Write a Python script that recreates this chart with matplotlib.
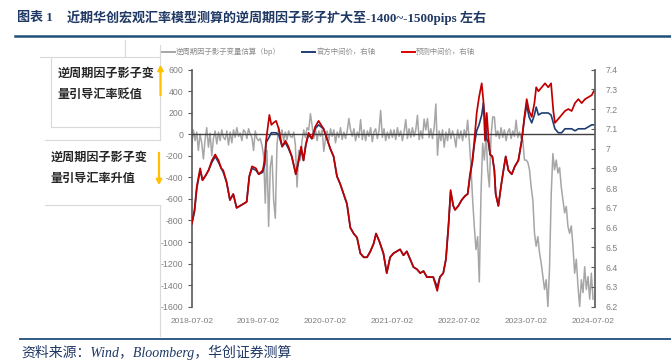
import numpy as np
import pandas as pd
import matplotlib
matplotlib.use('Agg')
import matplotlib.pyplot as plt
from matplotlib.lines import Line2D
from matplotlib.patches import FancyArrowPatch
from matplotlib.ticker import FuncFormatter

plt.rcParams['font.family'] = ['Liberation Sans', 'Noto Sans CJK SC', 'DejaVu Sans']

# 逆周期因子影子变量估算 (bp)，约每 9 天一个点
gray_vals = [
    -100, 40, -60, 20, -150, 0, -80, -230, -50, 60, -120, 10, -200, -40, 30, -90, 20, -60, 40, -30,
    -50, 30, -100, 20, -80, 40, -30, 60, -20, 10, -60, 40, 20, -40, 50, 0, -30, -150, 30, -40,
    -60, -40, -100, -200, -640, -150, -855, -300, -200, -610, -780, -100, 60, -30, 40, -60, 20, -50, 30, -20,
    -30, 20, -100, -490, -150, -240, -60, 40, -30, 60, 40, 190, 80, -40, 50, -60, 30, -20, 40, -160,
    -40, 30, -60, 50, -20, 40, -80, 20, -30, 60, -50, 20, -40, 30, 145, 40, -20, 50, -60, 20,
    -30, 135, -50, 40, -60, 30, -20, 60, -70, 20, 50, -40, 30, 220, -30, 50, -60, 20, -40, 40,
    -30, 40, -50, 60, -20, 30, -60, 20, 135, -40, 50, -30, 60, -20, 40, 175, -50, 30, -40, 140,
    40, 145, -30, 50, -40, 60, 280, -195, 30, -60, 40, -120, 20, -60, 50, -40, 30, -20, -120, 40,
    -40, 30, -60, 40, -30, 130, -60, -300, -610, -855, -1070, -950, -1370, -550, -85, -240, 0, -330, -490, -25,
    160, 160, -20, 30, -40, 60, -30, 40, -60, 20, 50, -40, 30, -20, 130, -30, 20, -40, -55, -240,
    -240, -260, -330, -490, -610, -920, -1040, -950, -1100, -1195, -1320, -1440, -1350, -1600, -1230, -550,
    -180, -330, -240, -360,
    -310, -490, -610, -730, -670, -855, -920, -850, -1040, -1290, -1160, -1410, -1600, -1350, -1470, -1230,
    -1440, -1320, -1530, -1290, -1530,
]

# 官方/预测中间价（右轴），时间为年份小数
fx_years = [
    2018.50, 2018.54, 2018.575, 2018.625, 2018.66, 2018.70, 2018.75, 2018.80, 2018.85, 2018.90,
    2018.94, 2018.97, 2019.02, 2019.07, 2019.12, 2019.17, 2019.22, 2019.27, 2019.32, 2019.36,
    2019.40, 2019.46, 2019.50, 2019.56, 2019.59, 2019.61, 2019.66, 2019.69, 2019.72, 2019.76,
    2019.80, 2019.85, 2019.90, 2019.945, 2019.995, 2020.055, 2020.095, 2020.135, 2020.17, 2020.205,
    2020.245, 2020.295, 2020.345, 2020.395, 2020.47, 2020.52, 2020.57, 2020.62, 2020.67, 2020.72,
    2020.77, 2020.82, 2020.87, 2020.92, 2020.97, 2021.02, 2021.07, 2021.12, 2021.17, 2021.22,
    2021.255, 2021.305, 2021.365, 2021.415, 2021.465, 2021.515, 2021.565, 2021.615, 2021.665, 2021.715,
    2021.765, 2021.815, 2021.865, 2021.915, 2021.965, 2022.015, 2022.11, 2022.17, 2022.21, 2022.26,
    2022.30, 2022.34, 2022.37, 2022.41, 2022.436, 2022.485, 2022.536, 2022.585, 2022.625, 2022.66,
    2022.695, 2022.725, 2022.76, 2022.795, 2022.835, 2022.86, 2022.885, 2022.91, 2022.935, 2022.96,
    2022.994, 2023.024, 2023.044, 2023.084, 2023.124, 2023.16, 2023.194, 2023.234, 2023.284, 2023.33,
    2023.383, 2023.433, 2023.473, 2023.508, 2023.543, 2023.583, 2023.623, 2023.65, 2023.683, 2023.733,
    2023.782, 2023.83, 2023.872, 2023.906, 2023.93, 2023.98, 2024.03, 2024.08, 2024.13, 2024.18,
    2024.23, 2024.28, 2024.33, 2024.38, 2024.43, 2024.48, 2024.51,
]
pred_vals = [
    6.62, 6.69, 6.81, 6.90, 6.84, 6.86, 6.89, 6.94, 6.97, 6.94,
    6.90, 6.89, 6.83, 6.74, 6.77, 6.70, 6.71, 6.72, 6.73, 6.86,
    6.91, 6.90, 6.87, 6.89, 6.94, 7.04, 7.17, 7.12, 7.13, 7.14,
    7.10, 7.01, 7.04, 7.01, 6.96, 6.87, 6.94, 7.01, 6.94, 7.02,
    7.08, 7.05, 7.11, 7.14, 7.10, 7.05, 7.00, 6.96, 6.86, 6.82,
    6.77, 6.72, 6.60, 6.57, 6.55, 6.47, 6.45, 6.45, 6.48, 6.52,
    6.57, 6.53, 6.47, 6.37, 6.45, 6.47, 6.48, 6.49, 6.46, 6.48,
    6.44, 6.40, 6.39, 6.37, 6.38, 6.35, 6.35, 6.28, 6.35, 6.37,
    6.44, 6.62, 6.79, 6.71, 6.69, 6.71, 6.74, 6.76, 6.77, 6.87,
    6.94, 7.04, 7.18, 7.26, 7.33, 7.24, 7.04, 7.18, 7.06, 6.97,
    6.96, 6.89, 6.77, 6.71, 6.81, 6.89, 6.96, 6.89, 6.87, 6.91,
    6.94, 7.04, 7.16, 7.25, 7.19, 7.16, 7.23, 7.31, 7.29, 7.31,
    7.33, 7.31, 7.33, 7.19, 7.13, 7.15, 7.17, 7.19, 7.20, 7.19,
    7.23, 7.25, 7.23, 7.25, 7.26, 7.27, 7.29,
]
official_vals = [
    6.62, 6.68, 6.80, 6.89, 6.84, 6.86, 6.89, 6.93, 6.96, 6.93,
    6.90, 6.88, 6.83, 6.74, 6.77, 6.70, 6.71, 6.72, 6.73, 6.86,
    6.90, 6.89, 6.87, 6.88, 6.92, 7.03, 7.06, 7.08, 7.08, 7.08,
    7.07, 7.01, 7.03, 7.00, 6.96, 6.87, 6.93, 7.00, 6.94, 7.02,
    7.07, 7.05, 7.10, 7.12, 7.10, 7.05, 7.00, 6.96, 6.86, 6.82,
    6.77, 6.72, 6.60, 6.57, 6.55, 6.47, 6.45, 6.45, 6.48, 6.52,
    6.57, 6.53, 6.47, 6.37, 6.45, 6.47, 6.48, 6.49, 6.46, 6.48,
    6.44, 6.40, 6.39, 6.37, 6.38, 6.35, 6.35, 6.30, 6.35, 6.37,
    6.44, 6.62, 6.78, 6.71, 6.69, 6.71, 6.74, 6.76, 6.77, 6.86,
    6.93, 7.02, 7.09, 7.12, 7.17, 7.23, 7.15, 7.05, 7.03, 6.97,
    6.96, 6.89, 6.77, 6.71, 6.81, 6.89, 6.96, 6.89, 6.87, 6.91,
    6.94, 7.04, 7.15, 7.22, 7.16, 7.13, 7.17, 7.21, 7.17, 7.18,
    7.18, 7.18, 7.17, 7.13, 7.10, 7.08, 7.08, 7.10, 7.10, 7.10,
    7.09, 7.10, 7.10, 7.10, 7.11, 7.12, 7.12,
]

tick_labels = ['2018-07-02', '2019-07-02', '2020-07-02', '2021-07-02',
               '2022-07-02', '2023-07-02', '2024-07-02']

gray_dates = pd.date_range('2018-07-02', '2024-07-02', periods=len(gray_vals))
fx_dates = pd.Timestamp('2018-01-01') + pd.to_timedelta((np.array(fx_years) - 2018) * 365.25, unit='D')

W, H = 671, 360
fig = plt.figure(figsize=(W / 100, H / 100), dpi=100)


def px(x):
    return x / W


def py(y):
    return 1 - y / H


navy = '#1F3864'
mixed = ['Liberation Serif', 'Noto Sans CJK SC']

# 标题
fig.text(px(17), py(18), '图表 1', fontsize=9.4, fontweight='bold', color=navy,
         family=mixed, va='center')
fig.text(px(67), py(18), '近期华创宏观汇率模型测算的逆周期因子影子扩大至-1400~-1500pips 左右',
         fontsize=9.4, fontweight='bold', color=navy, family=mixed, va='center')
fig.add_artist(Line2D([px(15), px(671)], [py(36), py(36)], color='#1F4E79', lw=1.8))
fig.add_artist(Line2D([px(20), px(671)], [py(339), py(339)], color='#1F4E79', lw=1.3))
fig.text(px(21), py(352), '资料来源：Wind，Bloomberg，华创证券测算', fontsize=10, style='italic',
         color=navy, family=mixed, va='center')

# 左侧说明框
box_c = '#D9D9D9'
for xs, ys in [([125, 125], [40, 57]), ([40, 160], [57, 57]), ([51, 51], [57, 127]),
               ([51, 160], [127, 127]), ([160, 160], [45, 140]), ([45, 160], [140, 140]),
               ([45, 160], [205, 205]), ([160, 160], [205, 336])]:
    fig.add_artist(Line2D([px(v) for v in xs], [py(v) for v in ys], color=box_c, lw=0.8))

txt_kw = dict(fontsize=8.7, fontweight='bold', color='#262626', va='center',
              family=['Noto Sans CJK SC'])
fig.text(px(58), py(73), '逆周期因子影子变', **txt_kw)
fig.text(px(58), py(94), '量引导汇率贬值', **txt_kw)
fig.text(px(51), py(157), '逆周期因子影子变', **txt_kw)
fig.text(px(51), py(178), '量引导汇率升值', **txt_kw)
orange = '#FFC000'
up = FancyArrowPatch((px(160.5), py(98)), (px(160.5), py(62)), transform=fig.transFigure,
                     arrowstyle='-|>,head_length=3,head_width=1.6', color=orange, lw=1.6)
down = FancyArrowPatch((px(159), py(150)), (px(159), py(188)), transform=fig.transFigure,
                       arrowstyle='-|>,head_length=3,head_width=1.6', color=orange, lw=1.6)
up.set_zorder(10)
down.set_zorder(10)
fig.add_artist(up)
fig.add_artist(down)

# 图例
leg_c = '#8C8C8C'
for x0, col, lab in [(162, '#A6A6A6', '逆周期因子影子变量估算（bp）'),
                     (302, '#1F3E74', '官方中间价，右轴'),
                     (402, '#E00000', '预测中间价，右轴')]:
    fig.add_artist(Line2D([px(x0), px(x0 + 13)], [py(51.5), py(51.5)], color=col, lw=1.4))
    fig.text(px(x0 + 14), py(51.5), lab, fontsize=5.3, color=leg_c, va='center',
             family=['Noto Sans CJK SC'])

# 主图
ax = fig.add_axes([px(191.7), py(306.7), px(594.5) - px(191.7), py(69.5) - py(306.7)])
ax2 = ax.twinx()

ax.plot(gray_dates, gray_vals, color='#A6A6A6', lw=1.1)
ax.axhline(0, color='#404040', lw=1.0, zorder=5)
ax2.plot(fx_dates, official_vals, color='#1F3E74', lw=1.2)
ax2.plot(fx_dates, pred_vals, color='#C00000', lw=1.25)

ax.set_ylim(-1600, 600)
ax.set_yticks(np.arange(-1600, 601, 200))
ax.yaxis.set_major_formatter(FuncFormatter(lambda v, p: '%d' % v))
ax2.set_ylim(6.2, 7.4)
ax2.set_yticks(np.round(np.arange(6.2, 7.41, 0.1), 1))
ax2.yaxis.set_major_formatter(FuncFormatter(lambda v, p: '%g' % round(v, 1)))

ax.set_xlim(pd.Timestamp('2018-07-02'), pd.Timestamp('2024-07-10'))
ax.set_xticks(pd.to_datetime(tick_labels))
ax.set_xticklabels(tick_labels)

spine_c = '#595959'
lab_c = '#7F7F7F'
for a in (ax, ax2):
    for s in ('top', 'bottom'):
        a.spines[s].set_visible(False)
ax.spines['right'].set_visible(False)
ax.spines['left'].set_color(spine_c)
ax.spines['left'].set_linewidth(1.2)
ax2.spines['left'].set_visible(False)
ax2.spines['right'].set_color(spine_c)
ax2.spines['right'].set_linewidth(1.2)

ax.tick_params(axis='y', direction='out', length=3, width=0.8, color=spine_c,
               labelsize=6.3, labelcolor=lab_c, pad=3)
ax2.tick_params(axis='y', direction='in', length=3, width=0.8, color=spine_c,
                labelsize=6.3, labelcolor=lab_c, pad=8)
ax.tick_params(axis='x', length=0, labelsize=6.0, labelcolor=lab_c, pad=8)

fig.savefig('out.png', dpi=100)
